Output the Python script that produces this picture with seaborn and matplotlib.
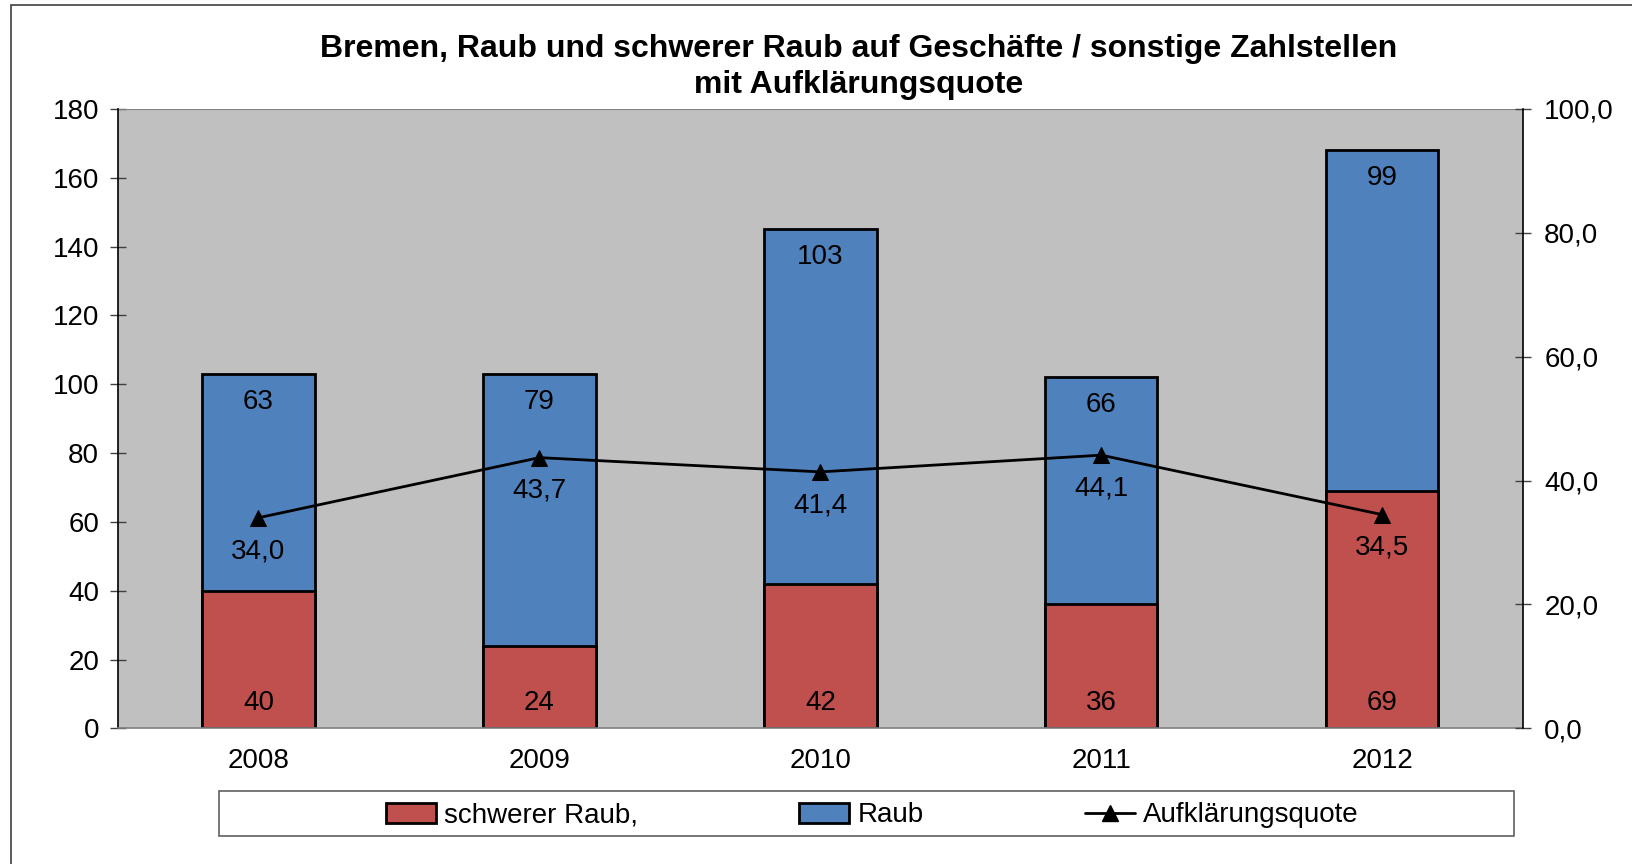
import matplotlib
matplotlib.use("Agg")
import matplotlib.pyplot as plt
import seaborn as sns
import numpy as np
from matplotlib.patches import Rectangle, Patch
from matplotlib.lines import Line2D
from matplotlib.ticker import FuncFormatter

years = ["2008", "2009", "2010", "2011", "2012"]
schwerer_raub = [40, 24, 42, 36, 69]
raub = [63, 79, 103, 66, 99]
quote = [34.0, 43.7, 41.4, 44.1, 34.5]

red = "#C0504D"
blue = "#4F81BD"
fs = 20

sns.set_style("white")
plt.rcParams["font.family"] = ["Liberation Sans", "DejaVu Sans"]
plt.rcParams["text.color"] = "black"
plt.rcParams["xtick.color"] = "black"
plt.rcParams["ytick.color"] = "black"

fig = plt.figure(figsize=(16.32, 8.64), dpi=100)
ax = fig.add_axes([0.0723, 0.157, 0.933 - 0.0723, 0.874 - 0.157])
ax.set_facecolor("#C0C0C0")

totals = [s + r for s, r in zip(schwerer_raub, raub)]
xs = np.arange(len(years))

# stacked bars: total in blue, schwerer Raub drawn over it in red
sns.barplot(x=xs, y=totals, ax=ax, color=blue, width=0.4, saturation=1,
            edgecolor="black", linewidth=2, native_scale=True)
sns.barplot(x=xs, y=schwerer_raub, ax=ax, color=red, width=0.4, saturation=1,
            edgecolor="black", linewidth=2, native_scale=True)

for x, s, t, r in zip(xs, schwerer_raub, totals, raub):
    ax.annotate(str(s), (x, 0), xytext=(0, 18), textcoords="offset points",
                ha="center", va="center", fontsize=fs)
    ax.annotate(str(r), (x, t), xytext=(0, -20), textcoords="offset points",
                ha="center", va="center", fontsize=fs)

ax.set_xlim(-0.5, 4.5)
ax.set_ylim(0, 180)
ax.set_yticks(range(0, 181, 20))
ax.set_xticks(xs)
ax.set_xticklabels(years)
ax.set_xticks(np.arange(-0.5, 5, 1), minor=True)
ax.tick_params(axis="x", which="major", length=0, labelsize=fs, pad=14)
ax.tick_params(axis="x", which="minor", length=8, width=1, direction="out", color="#404040")
ax.tick_params(axis="y", length=11, width=1, direction="inout", labelsize=fs, pad=8, color="#404040")
for side in ["top", "right"]:
    ax.spines[side].set_visible(False)
ax.spines["left"].set_color("black")
ax.spines["bottom"].set_color("#808080")
ax.spines["left"].set_linewidth(1.2)
ax.spines["bottom"].set_linewidth(1.2)
ax.axhline(180, color="#808080", lw=1.5)

ax2 = ax.twinx()
sns.lineplot(x=xs, y=quote, ax=ax2, color="black", marker="^", markersize=11,
             markeredgecolor="black", linewidth=2)
ax2.set_ylim(0, 100)
ax2.set_yticks(range(0, 101, 20))
ax2.yaxis.set_major_formatter(FuncFormatter(lambda v, p: f"{v:.1f}".replace(".", ",")))
ax2.tick_params(axis="y", length=11, width=1, direction="inout", labelsize=fs, pad=10, color="#404040")
for side in ["top", "left", "bottom"]:
    ax2.spines[side].set_visible(False)
ax2.spines["right"].set_color("black")
ax2.spines["right"].set_linewidth(1.2)
for x, q in zip(xs, quote):
    ax2.annotate(f"{q:.1f}".replace(".", ","), (x, q), xytext=(0, -24),
                 textcoords="offset points", ha="center", va="center", fontsize=fs)

fig.text(0.526, 1 - 67 / 864,
         "Bremen, Raub und schwerer Raub auf Geschäfte / sonstige Zahlstellen\nmit Aufklärungsquote",
         ha="center", va="center", fontsize=23, fontweight="bold", linespacing=1.3)

# legend box
fig.patches.append(Rectangle((219 / 1632, 1 - 836 / 864), (1514 - 219) / 1632, 45 / 864,
                             transform=fig.transFigure, fill=False, edgecolor="#606060", linewidth=1.2))
handles = [Patch(facecolor=red, edgecolor="black", linewidth=2),
           Patch(facecolor=blue, edgecolor="black", linewidth=2),
           Line2D([], [], color="black", marker="^", markersize=11, linewidth=2)]
fig.legend(handles, ["schwerer Raub,", "Raub", "Aufklärungsquote"], ncol=3,
           loc="center", bbox_to_anchor=(872 / 1632, 1 - 815.5 / 864),
           fontsize=fs, frameon=False, handlelength=1.8, handletextpad=0.3,
           columnspacing=5.8, borderaxespad=0)

# outer chart border
fig.patches.append(Rectangle((11 / 1632, -0.01), 1.2, 1 - 5 / 864 + 0.01, transform=fig.transFigure,
                             fill=False, edgecolor="#404040", linewidth=1.2))

fig.savefig("out.png", dpi=100)
